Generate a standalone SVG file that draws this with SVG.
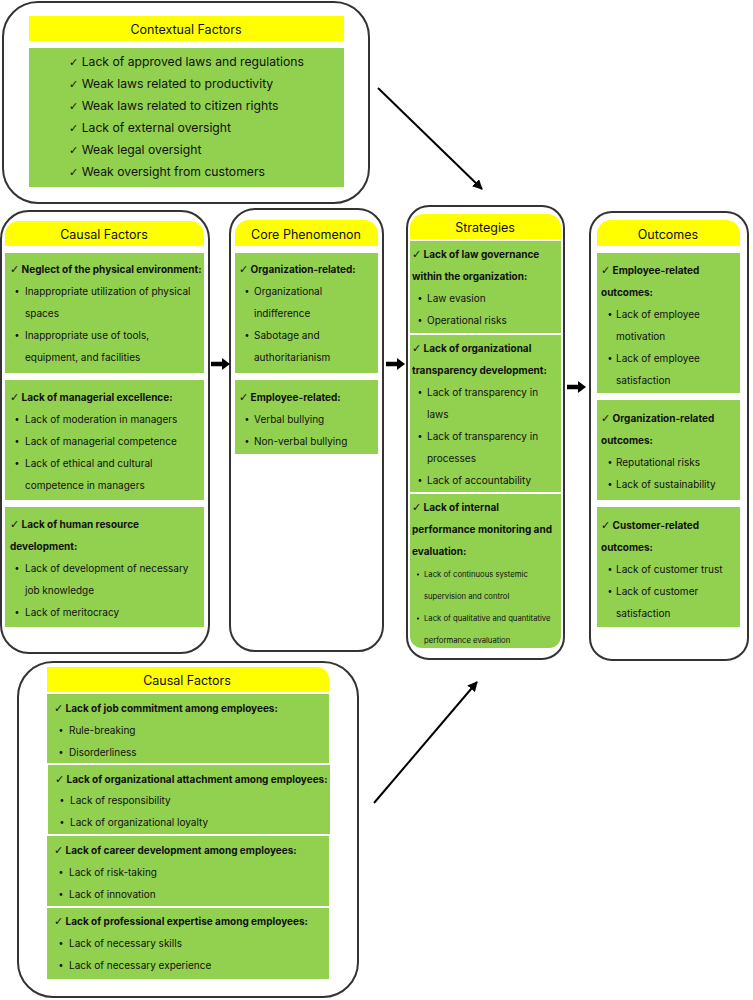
<svg xmlns="http://www.w3.org/2000/svg" width="753" height="1000" viewBox="0 0 753 1000">
<defs>
<style>
.box{fill:#fff;stroke:#333;stroke-width:2}
.yel{fill:#ffff00}
.grn{fill:#92d050}
text{font-family:Inter,"Liberation Sans",sans-serif;fill:#111}
.t{font-size:12.5px;text-anchor:middle}
.c{font-size:12.2px}
.h{font-size:10px;font-weight:bold}
.b{font-size:10px}
.s{font-size:7.7px}
.ck{font-family:"DejaVu Sans",sans-serif;font-size:11px}
.dot{fill:#111}
.con{stroke:#000;stroke-width:2;fill:none}
.thick{stroke:#000;stroke-width:4.5;fill:none}
</style>
<marker id="ah" viewBox="0 0 10 10" refX="9" refY="5" markerWidth="5" markerHeight="5" orient="auto">
<path d="M0,0 L10,5 L0,10 Z" fill="#000"/>
</marker>
</defs>
<rect width="753" height="1000" fill="#fff"/>

<g id="contextual">
<rect class="box" x="3" y="2" width="366" height="201" rx="35"/>
<rect class="yel" x="29" y="16" width="315" height="25"/>
<text class="t" x="186" y="34">Contextual Factors</text>
<rect class="grn" x="29" y="48" width="315" height="139"/>
<text class="c" x="69" y="66"><tspan class="ck">✓</tspan> Lack of approved laws and regulations</text>
<text class="c" x="69" y="88"><tspan class="ck">✓</tspan> Weak laws related to productivity</text>
<text class="c" x="69" y="110"><tspan class="ck">✓</tspan> Weak laws related to citizen rights</text>
<text class="c" x="69" y="132"><tspan class="ck">✓</tspan> Lack of external oversight</text>
<text class="c" x="69" y="154"><tspan class="ck">✓</tspan> Weak legal oversight</text>
<text class="c" x="69" y="176"><tspan class="ck">✓</tspan> Weak oversight from customers</text>
</g>

<g id="causal-left">
<rect class="box" x="1" y="211" width="208" height="442" rx="28"/>
<path class="yel" d="M5,246 V235 A14,14 0 0 1 19,221 H190 A14,14 0 0 1 204,235 V246 Z"/>
<text class="t" x="104" y="239">Causal Factors</text>
<rect class="grn" x="5" y="253" width="199" height="120"/>
<rect class="grn" x="5" y="380" width="199" height="120"/>
<rect class="grn" x="5" y="507" width="199" height="120"/>
<text class="h" x="10" y="273"><tspan class="ck">✓</tspan> Neglect of the physical environment:</text>
<circle class="dot" cx="17" cy="291.5" r="1.4"/><text class="b" x="25" y="295">Inappropriate utilization of physical</text>
<text class="b" x="25" y="317">spaces</text>
<circle class="dot" cx="17" cy="335.5" r="1.4"/><text class="b" x="25" y="339">Inappropriate use of tools,</text>
<text class="b" x="25" y="361">equipment, and facilities</text>
<text class="h" x="10" y="401"><tspan class="ck">✓</tspan> Lack of managerial excellence:</text>
<circle class="dot" cx="17" cy="419.5" r="1.4"/><text class="b" x="25" y="423">Lack of moderation in managers</text>
<circle class="dot" cx="17" cy="441.5" r="1.4"/><text class="b" x="25" y="445">Lack of managerial competence</text>
<circle class="dot" cx="17" cy="463.5" r="1.4"/><text class="b" x="25" y="467">Lack of ethical and cultural</text>
<text class="b" x="25" y="489">competence in managers</text>
<text class="h" x="10" y="528"><tspan class="ck">✓</tspan> Lack of human resource</text>
<text class="h" x="10" y="550">development:</text>
<circle class="dot" cx="17" cy="568.5" r="1.4"/><text class="b" x="25" y="572">Lack of development of necessary</text>
<text class="b" x="25" y="594">job knowledge</text>
<circle class="dot" cx="17" cy="612.5" r="1.4"/><text class="b" x="25" y="616">Lack of meritocracy</text>
</g>

<g id="core">
<rect class="box" x="230" y="209" width="153" height="442" rx="25"/>
<path class="yel" d="M235,246 V234 A14,14 0 0 1 249,220 H364 A14,14 0 0 1 378,234 V246 Z"/>
<text class="t" x="306" y="239">Core Phenomenon</text>
<rect class="grn" x="235" y="253" width="143" height="120"/>
<rect class="grn" x="235" y="380" width="143" height="74"/>
<text class="h" x="239" y="273"><tspan class="ck">✓</tspan> Organization-related:</text>
<circle class="dot" cx="247" cy="291.5" r="1.4"/><text class="b" x="254" y="295">Organizational</text>
<text class="b" x="254" y="317">indifference</text>
<circle class="dot" cx="247" cy="335.5" r="1.4"/><text class="b" x="254" y="339">Sabotage and</text>
<text class="b" x="254" y="361">authoritarianism</text>
<text class="h" x="239" y="401"><tspan class="ck">✓</tspan> Employee-related:</text>
<circle class="dot" cx="247" cy="419.5" r="1.4"/><text class="b" x="254" y="423">Verbal bullying</text>
<circle class="dot" cx="247" cy="441.5" r="1.4"/><text class="b" x="254" y="445">Non-verbal bullying</text>
</g>

<g id="strategies">
<rect class="box" x="407" y="206" width="157" height="453" rx="22"/>
<path class="yel" d="M410,239 V228 A14,14 0 0 1 424,214 H547 A14,14 0 0 1 561,228 V239 Z"/>
<text class="t" x="485" y="232">Strategies</text>
<rect class="grn" x="410" y="241" width="151" height="92"/>
<rect class="grn" x="410" y="335" width="151" height="157"/>
<path class="grn" d="M410,494 H561 V636 A12,12 0 0 1 549,648 H422 A12,12 0 0 1 410,636 Z"/>
<text class="h" x="412" y="258"><tspan class="ck">✓</tspan> Lack of law governance</text>
<text class="h" x="412" y="280">within the organization:</text>
<circle class="dot" cx="420" cy="298.5" r="1.4"/><text class="b" x="427" y="302">Law evasion</text>
<circle class="dot" cx="420" cy="320.5" r="1.4"/><text class="b" x="427" y="324">Operational risks</text>
<text class="h" x="412" y="352"><tspan class="ck">✓</tspan> Lack of organizational</text>
<text class="h" x="412" y="374">transparency development:</text>
<circle class="dot" cx="420" cy="392.5" r="1.4"/><text class="b" x="427" y="396">Lack of transparency in</text>
<text class="b" x="427" y="418">laws</text>
<circle class="dot" cx="420" cy="436.5" r="1.4"/><text class="b" x="427" y="440">Lack of transparency in</text>
<text class="b" x="427" y="462">processes</text>
<circle class="dot" cx="420" cy="480.5" r="1.4"/><text class="b" x="427" y="484">Lack of accountability</text>
<text class="h" x="412" y="511"><tspan class="ck">✓</tspan> Lack of internal</text>
<text class="h" x="412" y="533">performance monitoring and</text>
<text class="h" x="412" y="555">evaluation:</text>
<circle class="dot" cx="418" cy="574.5" r="1.1"/><text class="s" x="424" y="577">Lack of continuous systemic</text>
<text class="s" x="424" y="599">supervision and control</text>
<circle class="dot" cx="418" cy="618.5" r="1.1"/><text class="s" x="424" y="621">Lack of qualitative and quantitative</text>
<text class="s" x="424" y="643">performance evaluation</text>
</g>

<g id="outcomes">
<rect class="box" x="590" y="212" width="158" height="448" rx="22"/>
<path class="yel" d="M597,246 V234 A14,14 0 0 1 611,220 H726 A14,14 0 0 1 740,234 V246 Z"/>
<text class="t" x="668" y="239">Outcomes</text>
<rect class="grn" x="597" y="253" width="143" height="140"/>
<rect class="grn" x="597" y="400" width="143" height="100"/>
<rect class="grn" x="597" y="507" width="143" height="120"/>
<text class="h" x="601" y="274"><tspan class="ck">✓</tspan> Employee-related</text>
<text class="h" x="601" y="296">outcomes:</text>
<circle class="dot" cx="610" cy="314.5" r="1.4"/><text class="b" x="616" y="318">Lack of employee</text>
<text class="b" x="616" y="340">motivation</text>
<circle class="dot" cx="610" cy="358.5" r="1.4"/><text class="b" x="616" y="362">Lack of employee</text>
<text class="b" x="616" y="384">satisfaction</text>
<text class="h" x="601" y="422"><tspan class="ck">✓</tspan> Organization-related</text>
<text class="h" x="601" y="444">outcomes:</text>
<circle class="dot" cx="610" cy="462.5" r="1.4"/><text class="b" x="616" y="466">Reputational risks</text>
<circle class="dot" cx="610" cy="484.5" r="1.4"/><text class="b" x="616" y="488">Lack of sustainability</text>
<text class="h" x="601" y="529"><tspan class="ck">✓</tspan> Customer-related</text>
<text class="h" x="601" y="551">outcomes:</text>
<circle class="dot" cx="610" cy="569.5" r="1.4"/><text class="b" x="616" y="573">Lack of customer trust</text>
<circle class="dot" cx="610" cy="591.5" r="1.4"/><text class="b" x="616" y="595">Lack of customer</text>
<text class="b" x="616" y="617">satisfaction</text>
</g>

<g id="causal-bottom">
<rect class="box" x="18" y="662" width="340" height="335" rx="35"/>
<path class="yel" d="M47,692 V667 H317 A12,12 0 0 1 329,679 V692 Z"/>
<text class="t" x="187" y="685">Causal Factors</text>
<rect class="grn" x="47" y="694" width="282" height="69"/>
<rect class="grn" x="48" y="765" width="282" height="69"/>
<rect class="grn" x="47" y="836" width="282" height="70"/>
<rect class="grn" x="47" y="908" width="282" height="71"/>
<text class="h" x="54" y="712"><tspan class="ck">✓</tspan> Lack of job commitment among employees:</text>
<circle class="dot" cx="61" cy="730.5" r="1.4"/><text class="b" x="69" y="734">Rule-breaking</text>
<circle class="dot" cx="61" cy="752.5" r="1.4"/><text class="b" x="69" y="756">Disorderliness</text>
<text class="h" x="55" y="783"><tspan class="ck">✓</tspan> Lack of organizational attachment among employees:</text>
<circle class="dot" cx="62" cy="800.5" r="1.4"/><text class="b" x="70" y="804">Lack of responsibility</text>
<circle class="dot" cx="62" cy="822.5" r="1.4"/><text class="b" x="70" y="826">Lack of organizational loyalty</text>
<text class="h" x="54" y="854"><tspan class="ck">✓</tspan> Lack of career development among employees:</text>
<circle class="dot" cx="61" cy="872.5" r="1.4"/><text class="b" x="69" y="876">Lack of risk-taking</text>
<circle class="dot" cx="61" cy="894.5" r="1.4"/><text class="b" x="69" y="898">Lack of innovation</text>
<text class="h" x="54" y="925"><tspan class="ck">✓</tspan> Lack of professional expertise among employees:</text>
<circle class="dot" cx="61" cy="943.5" r="1.4"/><text class="b" x="69" y="947">Lack of necessary skills</text>
<circle class="dot" cx="61" cy="965.5" r="1.4"/><text class="b" x="69" y="969">Lack of necessary experience</text>
</g>

<g id="connectors">
<path class="con" d="M378,88 L482,189" marker-end="url(#ah)"/>
<path class="con" d="M374,803 L477,682" marker-end="url(#ah)"/>
<path class="thick" d="M211,364 H223"/><path d="M222,358 L230,364 L222,370 Z" fill="#000"/>
<path class="thick" d="M386,364 H398"/><path d="M397,358 L405,364 L397,370 Z" fill="#000"/>
<path class="thick" d="M567,387 H579"/><path d="M578,381 L586,387 L578,393 Z" fill="#000"/>
</g>
</svg>
